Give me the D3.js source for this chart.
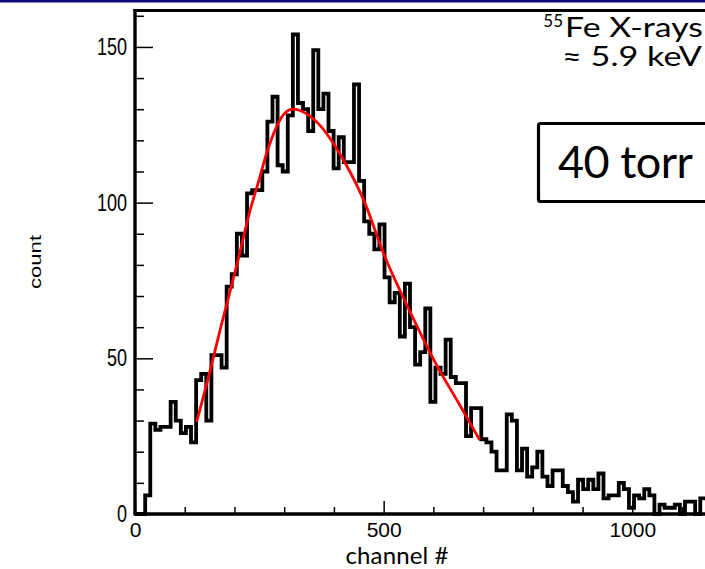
<!doctype html>
<html>
<head>
  <meta charset="utf-8" />
  <title>55Fe spectrum, 40 torr</title>
  <script src="https://cdn.jsdelivr.net/npm/d3@7/dist/d3.min.js"></script>
  <style>
    body { margin: 0; background: #fff; }
    svg { display: block; }
  </style>
</head>
<body>
<div id="chart"></div>
<script>
  // histogram: counts per bin, bin width in channels
  var binWidth = 10.24;
  var counts = [
    0, 0, 6, 29, 27, 28, 28, 36, 30, 26,
    28, 23, 43, 45, 30, 51, 51, 47, 73, 77,
    90, 83, 103, 104, 104, 110, 126, 134, 112, 110,
    128, 154, 132, 130, 123, 149, 130, 135, 123, 111,
    121, 113, 113, 138, 107, 94, 90, 85, 93, 76,
    68, 71, 57, 74, 60, 48, 52, 66, 36, 47,
    45, 56, 44, 42, 42, 25, 34, 34, 24, 23,
    20, 14, 14, 32, 30, 14, 21, 12, 15, 20,
    12, 9, 14, 14, 9, 7, 4, 11, 8, 11,
    8, 13, 5, 6, 6, 10, 8, 2, 6, 5,
    8, 6, 0, 3, 2, 2, 3, 0, 4, 4,
    0, 5, 5, 3
  ];

  // fitted curve: [channel, count]
  var fitPoints = [
    [124, 29.7], [147, 43.5], [171, 59], [204, 79.5], [234, 99], [248, 106.5],
    [265, 116], [285, 124.5], [300, 128.5], [318, 130], [345, 128.5], [372, 124.8],
    [399, 119], [432, 110], [462, 100], [499, 84], [553, 65], [606, 48],
    [653, 35], [693, 23.8]
  ];

  var xMajor = [0, 500, 1000];
  var xMinor = [100, 200, 300, 400, 600, 700, 800, 900, 1100];
  var yMajor = [0, 50, 100, 150];
  var yMinor = [10, 20, 30, 40, 60, 70, 80, 90, 110, 120, 130, 140, 160];

  var W = 705, H = 569;
  var rootFont = "Arial, 'Liberation Sans', Helvetica, sans-serif";
  var slideFont = "Lato, 'Open Sans', sans-serif";

  var svg = d3.select("#chart").append("svg")
    .attr("width", W).attr("height", H);

  // thin navy band along the top edge
  svg.append("rect").attr("x", 0).attr("y", 0).attr("width", W).attr("height", 2.5)
    .attr("fill", "#0c0c78");

  var x = d3.scaleLinear().domain([0, 1000]).range([135, 632.3]);
  var y = d3.scaleLinear().domain([0, 161.7]).range([514, 10.5]);

  // histogram outline
  var steps = counts.map(function(c, i) { return [i * binWidth, c]; });
  steps.push([counts.length * binWidth, counts[counts.length - 1]]);
  var stepLine = d3.line()
    .x(function(d) { return x(d[0]); })
    .y(function(d) { return y(d[1]); })
    .curve(d3.curveStepAfter);

  svg.append("path").datum(steps)
    .attr("d", stepLine)
    .attr("fill", "none")
    .attr("stroke", "#000")
    .attr("stroke-width", 3.8)
    .attr("stroke-linejoin", "miter");

  // fit
  var fitLine = d3.line()
    .x(function(d) { return x(d[0]); })
    .y(function(d) { return y(d[1]); })
    .curve(d3.curveMonotoneX);
  svg.append("path").datum(fitPoints)
    .attr("d", fitLine)
    .attr("fill", "none")
    .attr("stroke", "#ff0000")
    .attr("stroke-width", 2.8);

  // frame top
  svg.append("line").attr("x1", 133.5).attr("x2", W + 5)
    .attr("y1", 10.5).attr("y2", 10.5)
    .attr("stroke", "#000").attr("stroke-width", 3.2);

  // y axis
  var yAxis = svg.append("g").attr("transform", "translate(135,0)")
    .call(d3.axisLeft(y).tickValues(yMajor).tickSize(-18).tickPadding(8).tickFormat(d3.format("d")));
  svg.append("g").attr("transform", "translate(135,0)")
    .call(d3.axisLeft(y).tickValues(yMinor).tickSize(-9).tickFormat(""))
    .call(function(g) { g.select(".domain").remove(); });
  yAxis.select(".domain").attr("d", "M0,514V9").attr("stroke-width", 3.4);
  yAxis.selectAll("text")
    .attr("font-family", rootFont)
    .attr("font-size", 18)
    .attr("fill", "#000")
    .attr("transform", "scale(1,1.28)");

  // x axis
  var xAxis = svg.append("g").attr("transform", "translate(0,514)")
    .call(d3.axisBottom(x).tickValues(xMajor).tickSize(-13).tickPadding(8).tickFormat(d3.format("d")));
  svg.append("g").attr("transform", "translate(0,514)")
    .call(d3.axisBottom(x).tickValues(xMinor).tickSize(-7).tickFormat(""))
    .call(function(g) { g.select(".domain").remove(); });
  xAxis.select(".domain").attr("d", "M133.5,0H" + (W + 5)).attr("stroke-width", 3.4);
  xAxis.selectAll("text")
    .attr("font-family", rootFont)
    .attr("font-size", 21)
    .attr("fill", "#000");
  svg.selectAll(".tick line").attr("stroke-width", 1.5);

  // axis titles
  svg.append("text")
    .attr("transform", "translate(41,262) scale(1,1.3) rotate(-90)")
    .attr("text-anchor", "middle")
    .attr("font-family", rootFont)
    .attr("font-size", 17)
    .text("count");

  svg.append("text")
    .attr("x", 397).attr("y", 564)
    .attr("text-anchor", "middle")
    .attr("font-family", slideFont)
    .attr("font-size", 24)
    .attr("textLength", 103)
    .text("channel #");

  // annotations
  svg.append("text")
    .attr("x", 563).attr("y", 27)
    .attr("text-anchor", "end")
    .attr("font-family", slideFont)
    .attr("font-size", 17)
    .text("55");

  svg.append("text")
    .attr("x", 565).attr("y", 37)
    .attr("font-family", slideFont)
    .attr("font-size", 26)
    .attr("textLength", 138)
    .attr("lengthAdjust", "spacingAndGlyphs")
    .text("Fe X-rays");

  svg.append("text")
    .attr("x", 562).attr("y", 66)
    .attr("font-family", slideFont)
    .attr("font-size", 26)
    .attr("textLength", 140)
    .attr("lengthAdjust", "spacingAndGlyphs")
    .text("\u2248 5.9 keV");

  svg.append("rect")
    .attr("x", 538.5).attr("y", 123.5).attr("width", 220).attr("height", 78)
    .attr("rx", 2)
    .attr("fill", "#fff").attr("stroke", "#000").attr("stroke-width", 3.2);

  svg.append("text")
    .attr("x", 558).attr("y", 178)
    .attr("font-family", slideFont)
    .attr("font-size", 45)
    .attr("textLength", 135)
    .text("40 torr");
</script>
</body>
</html>
